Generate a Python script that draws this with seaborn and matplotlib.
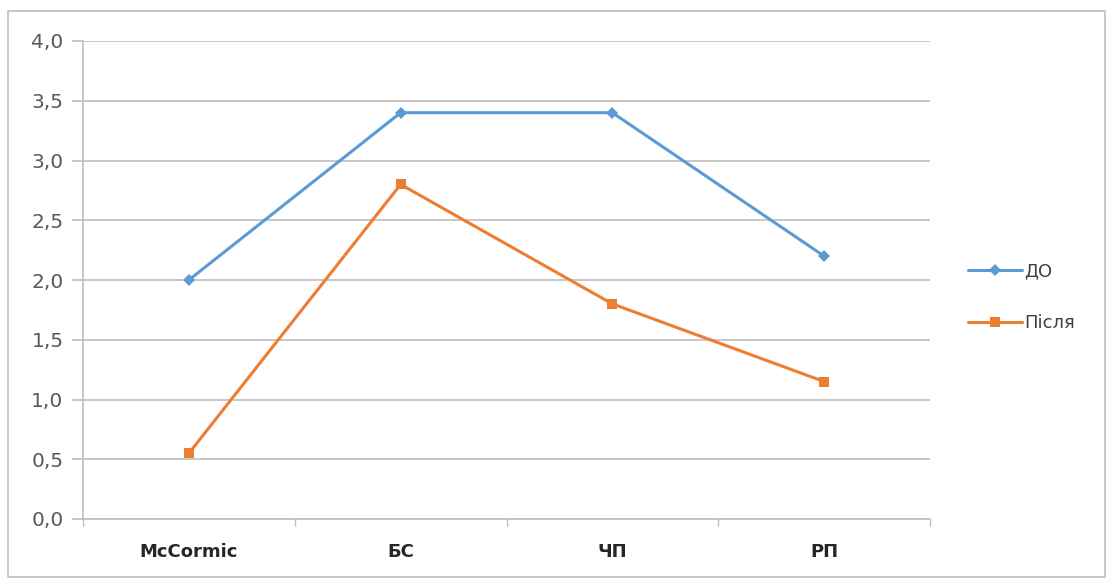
import matplotlib
matplotlib.use("Agg")
import matplotlib.pyplot as plt
import seaborn as sns
import pandas as pd
from matplotlib.ticker import FuncFormatter, FixedLocator
from matplotlib.patches import Rectangle

categories = ["McCormic", "БС", "ЧП", "РП"]
do_values = [2.0, 3.4, 3.4, 2.2]
after_values = [0.55, 2.8, 1.8, 1.15]
series_names = ["ДО", "Після"]
yticks = [0.0, 0.5, 1.0, 1.5, 2.0, 2.5, 3.0, 3.5, 4.0]

sns.set_theme(style="white")
plt.rcParams['font.family'] = ['DejaVu Sans']

fig = plt.figure(figsize=(11.1, 5.81), dpi=100)
ax = fig.add_axes([83/1110, 1 - 519/581, (930-83)/1110, (519-41)/581])

pos = list(range(len(categories)))
df = pd.DataFrame({"x": pos * 2,
                   "y": do_values + after_values,
                   "s": [series_names[0]] * 4 + [series_names[1]] * 4})

blue = "#5B9BD5"
orange = "#ED7D31"
sns.lineplot(data=df[df.s == series_names[0]], x="x", y="y", ax=ax, color=blue,
             marker="D", markersize=6, linewidth=2.2, markeredgewidth=0,
             label=series_names[0])
sns.lineplot(data=df[df.s == series_names[1]], x="x", y="y", ax=ax, color=orange,
             marker="s", markersize=7, linewidth=2.2, markeredgewidth=0,
             label=series_names[1])

ax.set_xlim(-0.5, len(categories) - 0.5)
ax.set_ylim(0, 4.0)
ax.set_yticks(yticks)
ax.yaxis.set_major_formatter(FuncFormatter(lambda v, p: f"{v:.1f}".replace(".", ",")))
ax.set_xticks(pos)
ax.set_xticklabels(categories, fontweight="bold", fontsize=13, color="#262626")
ax.xaxis.set_minor_locator(FixedLocator([-0.5, 0.5, 1.5, 2.5, 3.5]))
ax.tick_params(axis="x", which="major", length=0, pad=17)
ax.tick_params(axis="x", which="minor", length=5, width=1, color="#BFBFBF", bottom=True)
ax.tick_params(axis="y", length=8, width=1.2, color="#BFBFBF", left=True, labelsize=14.5,
               labelcolor="#595959", pad=6)
ax.set_xlabel("")
ax.set_ylabel("")
ax.grid(axis="y", color="#BFBFBF", linewidth=1.2)
ax.set_axisbelow(True)
for s in ["top", "right"]:
    ax.spines[s].set_visible(False)
ax.spines["left"].set_color("#BFBFBF")
ax.spines["bottom"].set_color("#BFBFBF")
ax.spines["left"].set_linewidth(1.2)
ax.spines["bottom"].set_linewidth(1.2)

leg = ax.legend(loc="center left", bbox_to_anchor=(1.026, 0.464), frameon=False,
                fontsize=13, handlelength=3, labelspacing=1.85, handletextpad=0.1)
for t in leg.get_texts():
    t.set_color("#404040")

fig.patches.append(Rectangle((8/1110, 1 - 577/581), (1105-8)/1110, (577-11)/581,
                             transform=fig.transFigure, fill=False,
                             edgecolor="#BFBFBF", linewidth=1.2))

fig.savefig("out.png", dpi=100)
